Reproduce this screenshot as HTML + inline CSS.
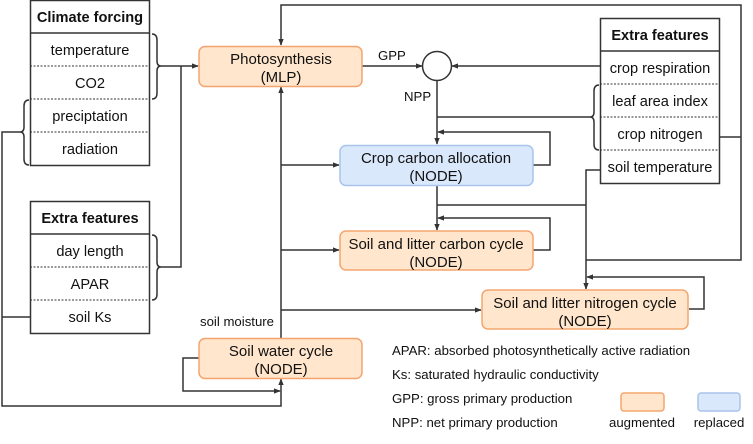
<!DOCTYPE html>
<html><head><meta charset="utf-8"><style>
html,body{margin:0;padding:0;background:#fff;width:753px;height:444px;overflow:hidden}
svg{display:block}
text{font-family:"Liberation Sans",Arial,sans-serif;fill:#111}
</style></head><body>
<svg width="753" height="444" viewBox="0 0 753 444" xmlns="http://www.w3.org/2000/svg">
<defs>
<marker id="a" viewBox="0 0 10 10" refX="9" refY="5" markerWidth="4.5" markerHeight="4.5" orient="auto"><path d="M0,1 L10,5 L0,9 z" fill="#333"/></marker>
</defs>
<g fill="none" stroke="#333" stroke-width="1.5">
<rect x="30.5" y="0.5" width="119" height="165" fill="#fff"/>
<line x1="30" y1="33" x2="150" y2="33"/>
<g stroke-dasharray="2,1.5" stroke-width="1">
<line x1="30" y1="66" x2="150" y2="66"/><line x1="30" y1="99" x2="150" y2="99"/><line x1="30" y1="132" x2="150" y2="132"/>
</g>
<rect x="30.5" y="201.5" width="119" height="132" fill="#fff"/>
<line x1="30" y1="234" x2="150" y2="234"/>
<g stroke-dasharray="2,1.5" stroke-width="1">
<line x1="30" y1="267" x2="150" y2="267"/><line x1="30" y1="300" x2="150" y2="300"/>
</g>
<rect x="600.5" y="18.5" width="119" height="165" fill="#fff"/>
<line x1="600" y1="51" x2="720" y2="51"/>
<g stroke-dasharray="2,1.5" stroke-width="1">
<line x1="600" y1="84" x2="720" y2="84"/><line x1="600" y1="117" x2="720" y2="117"/><line x1="600" y1="150" x2="720" y2="150"/>
</g>
<path d="M152,34 Q157,34 157,40 L157,61 Q157,66 161,66 Q157,66 157,71 L157,93 Q157,99 152,99"/>
<path d="M152,235 Q157,235 157,241 L157,262 Q157,267 161,267 Q157,267 157,272 L157,294 Q157,300 152,300"/>
<path d="M29,100 Q24,100 24,106 L24,127 Q24,132 20,132 Q24,132 24,137 L24,159 Q24,165 29,165"/>
<path d="M599,85 Q594,85 594,91 L594,112 Q594,117 590,117 Q594,117 594,122 L594,144 Q594,150 599,150"/>
<line x1="161" y1="66" x2="198" y2="66" marker-end="url(#a)"/>
<polyline points="161,267 181,267 181,66"/>
<polyline points="20,132 2,132 2,406 281,406 281,379" marker-end="url(#a)"/>
<line x1="2" y1="317" x2="30" y2="317"/>
<polyline points="200,358 183,358 183,391 280,391" marker-end="url(#a)"/>
<line x1="281" y1="338" x2="281" y2="87" marker-end="url(#a)"/>
<line x1="281" y1="165" x2="339" y2="165" marker-end="url(#a)"/>
<line x1="281" y1="250" x2="339" y2="250" marker-end="url(#a)"/>
<line x1="281" y1="310" x2="481" y2="310" marker-end="url(#a)"/>
<polyline points="741,137 741,5 281,5 281,45" marker-end="url(#a)"/>
<line x1="720" y1="137" x2="741" y2="137"/>
<polyline points="741,137 741,260 586,260"/>
<polyline points="600,170 586,170 586,289" marker-end="url(#a)"/>
<line x1="437" y1="205" x2="586" y2="205"/>
<line x1="362" y1="66" x2="422" y2="66" marker-end="url(#a)"/>
<line x1="600" y1="66" x2="452" y2="66" marker-end="url(#a)"/>
<circle cx="437" cy="66" r="14.5" fill="#fff"/>
<line x1="437" y1="81" x2="437" y2="144" marker-end="url(#a)"/>
<line x1="437" y1="117" x2="590" y2="117"/>
<polyline points="533,165 550,165 550,132 438,132" marker-end="url(#a)"/>
<line x1="437" y1="185" x2="437" y2="230" marker-end="url(#a)"/>
<polyline points="533,250 550,250 550,218 438,218" marker-end="url(#a)"/>
<polyline points="689,309 704,309 704,277 587,277" marker-end="url(#a)"/>
</g>
<g stroke-width="1.5">
<rect x="199" y="46.5" width="163" height="40" rx="6" fill="#ffe6cc" stroke="#f4a56f"/>
<rect x="199" y="338.5" width="163" height="40" rx="6" fill="#ffe6cc" stroke="#f4a56f"/>
<rect x="340" y="145.5" width="193" height="40" rx="6" fill="#dae8fc" stroke="#a9c4eb"/>
<rect x="340" y="231" width="193" height="39" rx="6" fill="#ffe6cc" stroke="#f4a56f"/>
<rect x="482" y="290" width="206" height="39" rx="6" fill="#ffe6cc" stroke="#f4a56f"/>
<rect x="621" y="393" width="43" height="18" rx="3" fill="#ffe6cc" stroke="#f4a56f"/>
<rect x="698" y="393" width="42" height="18" rx="3" fill="#dae8fc" stroke="#a9c4eb"/>
</g>
<g font-size="15" text-anchor="middle">
<text x="281" y="64">Photosynthesis</text><text x="281" y="82">(MLP)</text>
<text x="281" y="356">Soil water cycle</text><text x="281" y="374">(NODE)</text>
<text x="436" y="163">Crop carbon allocation</text><text x="436" y="181">(NODE)</text>
<text x="436" y="249">Soil and litter carbon cycle</text><text x="436" y="267">(NODE)</text>
<text x="585" y="308">Soil and litter nitrogen cycle</text><text x="585" y="326">(NODE)</text>
</g>
<g font-size="14.6" text-anchor="middle">
<text x="90" y="22" font-weight="bold">Climate forcing</text>
<text x="90" y="55">temperature</text><text x="90" y="88">CO2</text>
<text x="90" y="121">preciptation</text><text x="90" y="154">radiation</text>
<text x="90" y="223" font-weight="bold">Extra features</text>
<text x="90" y="256">day length</text><text x="90" y="289">APAR</text><text x="90" y="322">soil Ks</text>
<text x="660" y="40" font-weight="bold">Extra features</text>
<text x="660" y="73">crop respiration</text><text x="660" y="106">leaf area index</text>
<text x="660" y="139">crop nitrogen</text><text x="660" y="172">soil temperature</text>
</g>
<g font-size="13.2">
<text x="378" y="60">GPP</text><text x="404" y="101">NPP</text>
<text x="200" y="326">soil moisture</text>
<text x="392" y="355">APAR: absorbed photosynthetically active radiation</text>
<text x="392" y="379">Ks: saturated hydraulic conductivity</text>
<text x="392" y="403">GPP: gross primary production</text>
<text x="392" y="427">NPP: net primary production</text>
<text x="642" y="427" text-anchor="middle">augmented</text>
<text x="719" y="427" text-anchor="middle">replaced</text>
</g>
</svg>
</body></html>
